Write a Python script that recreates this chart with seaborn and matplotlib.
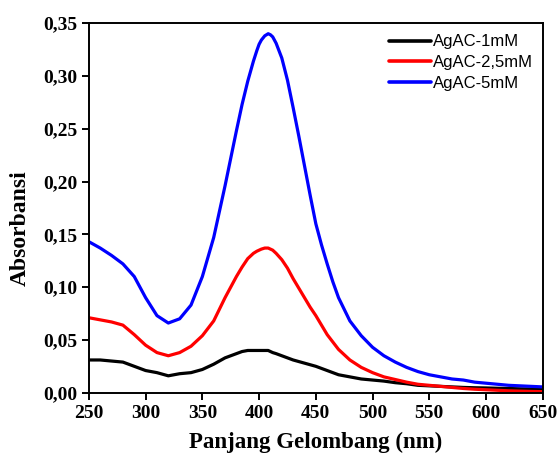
import numpy as np
import pandas as pd
import seaborn as sns
import matplotlib.pyplot as plt
from matplotlib.ticker import FixedLocator

# wavelengths (nm) and absorbance
wavelength = [250, 260, 270, 280, 290, 300, 310, 320, 330, 340, 350, 360, 370, 380,
              385, 390, 395, 398, 400, 402, 405, 408, 410, 412, 415, 420, 425, 430,
              435, 440, 445, 450, 455, 460, 465, 470, 480, 490,
              500, 510, 520, 530, 540, 550, 560, 570, 580, 590, 600, 610, 620, 630,
              640, 650]

agac_1mm = [0.031, 0.031, 0.030, 0.029, 0.025, 0.021, 0.019, 0.016, 0.018, 0.019,
            0.022, 0.027, 0.033, 0.037,
            0.039, 0.040, 0.040, 0.040, 0.040, 0.040, 0.040, 0.040, 0.039, 0.038,
            0.037, 0.035, 0.033, 0.031,
            0.0295, 0.028, 0.0265, 0.025, 0.023, 0.021, 0.019, 0.017, 0.015, 0.013,
            0.012, 0.011, 0.0095, 0.0085, 0.007, 0.0065, 0.006, 0.0055, 0.005,
            0.0047, 0.0045, 0.0042, 0.004, 0.0037, 0.0035, 0.0032]

agac_25mm = [0.071, 0.069, 0.067, 0.064, 0.055, 0.045, 0.038, 0.035, 0.038, 0.044,
             0.054, 0.068, 0.090, 0.110,
             0.119, 0.127, 0.132, 0.134, 0.135, 0.136, 0.137, 0.137, 0.136, 0.135,
             0.132, 0.126, 0.118, 0.108,
             0.099, 0.090, 0.081, 0.073, 0.064, 0.055, 0.048, 0.041, 0.031, 0.024,
             0.019, 0.015, 0.0125, 0.010, 0.008, 0.007, 0.006, 0.005, 0.004,
             0.0033, 0.0028, 0.0023, 0.0018, 0.0015, 0.0012, 0.001]

agac_5mm = [0.143, 0.137, 0.130, 0.122, 0.110, 0.090, 0.073, 0.066, 0.070, 0.083,
            0.110, 0.147, 0.196, 0.248,
            0.273, 0.295, 0.314, 0.324, 0.330, 0.334, 0.338, 0.340, 0.339, 0.337,
            0.331, 0.317, 0.296, 0.270,
            0.243, 0.215, 0.187, 0.160, 0.140, 0.122, 0.105, 0.090, 0.068, 0.054,
            0.043, 0.035, 0.029, 0.024, 0.020, 0.017, 0.015, 0.013, 0.012,
            0.010, 0.009, 0.008, 0.007, 0.0065, 0.006, 0.0055]

labels = ['AgAC-1mM', 'AgAC-2,5mM', 'AgAC-5mM']
colors = ['#000000', '#ff0000', '#0000ff']

x_ticks = [250, 300, 350, 400, 450, 500, 550, 600, 650]
y_ticks = [0.00, 0.05, 0.10, 0.15, 0.20, 0.25, 0.30, 0.35]
y_tick_labels = ['0,00', '0,05', '0,10', '0,15', '0,20', '0,25', '0,30', '0,35']

if __name__ == '__main__':
    df = pd.concat([
        pd.DataFrame({'wl': wavelength, 'abs': agac_1mm, 'sample': labels[0]}),
        pd.DataFrame({'wl': wavelength, 'abs': agac_25mm, 'sample': labels[1]}),
        pd.DataFrame({'wl': wavelength, 'abs': agac_5mm, 'sample': labels[2]}),
    ])

    sns.set_theme(style='ticks', rc={'text.color': 'black', 'axes.labelcolor': 'black'})
    plt.rcParams['font.family'] = ['Liberation Serif', 'DejaVu Serif']

    fig = plt.figure(figsize=(5.59, 4.54), dpi=100)
    ax = fig.add_axes([0.159, 0.135, 0.812, 0.814])

    sns.lineplot(data=df, x='wl', y='abs', hue='sample', palette=colors,
                 linewidth=2.3, ax=ax, sort=False)

    ax.set_xlim(250, 650)
    ax.set_ylim(0, 0.35)
    ax.xaxis.set_major_locator(FixedLocator(x_ticks))
    ax.set_xticklabels([str(t) for t in x_ticks])
    ax.yaxis.set_major_locator(FixedLocator(y_ticks))
    ax.set_yticklabels(y_tick_labels)
    ax.tick_params(axis='both', direction='out', length=5, width=1.4,
                   labelsize=14, color='black', labelcolor='black')
    for lab in ax.get_xticklabels() + ax.get_yticklabels():
        lab.set_fontweight('bold')
    for sp in ax.spines.values():
        sp.set_visible(True)
        sp.set_linewidth(1.4)
        sp.set_color('black')

    ax.set_xlabel('Panjang Gelombang (nm)', fontsize=16.5, fontweight='bold', color='black')
    ax.set_ylabel('Absorbansi', fontsize=17, fontweight='bold', color='black')
    ax.yaxis.set_label_coords(-0.127, 0.445)
    ax.xaxis.set_label_coords(0.5, -0.105)

    leg = ax.legend(loc='upper left', bbox_to_anchor=(0.629, 1.01), frameon=False,
                    handlelength=2.5, handletextpad=0.1, labelspacing=0.35,
                    prop={'family': 'Liberation Sans', 'size': 12})
    for line in leg.get_lines():
        line.set_linewidth(2.6)
    for txt in leg.get_texts():
        txt.set_color('black')

    plt.savefig('out.png', dpi=100)
